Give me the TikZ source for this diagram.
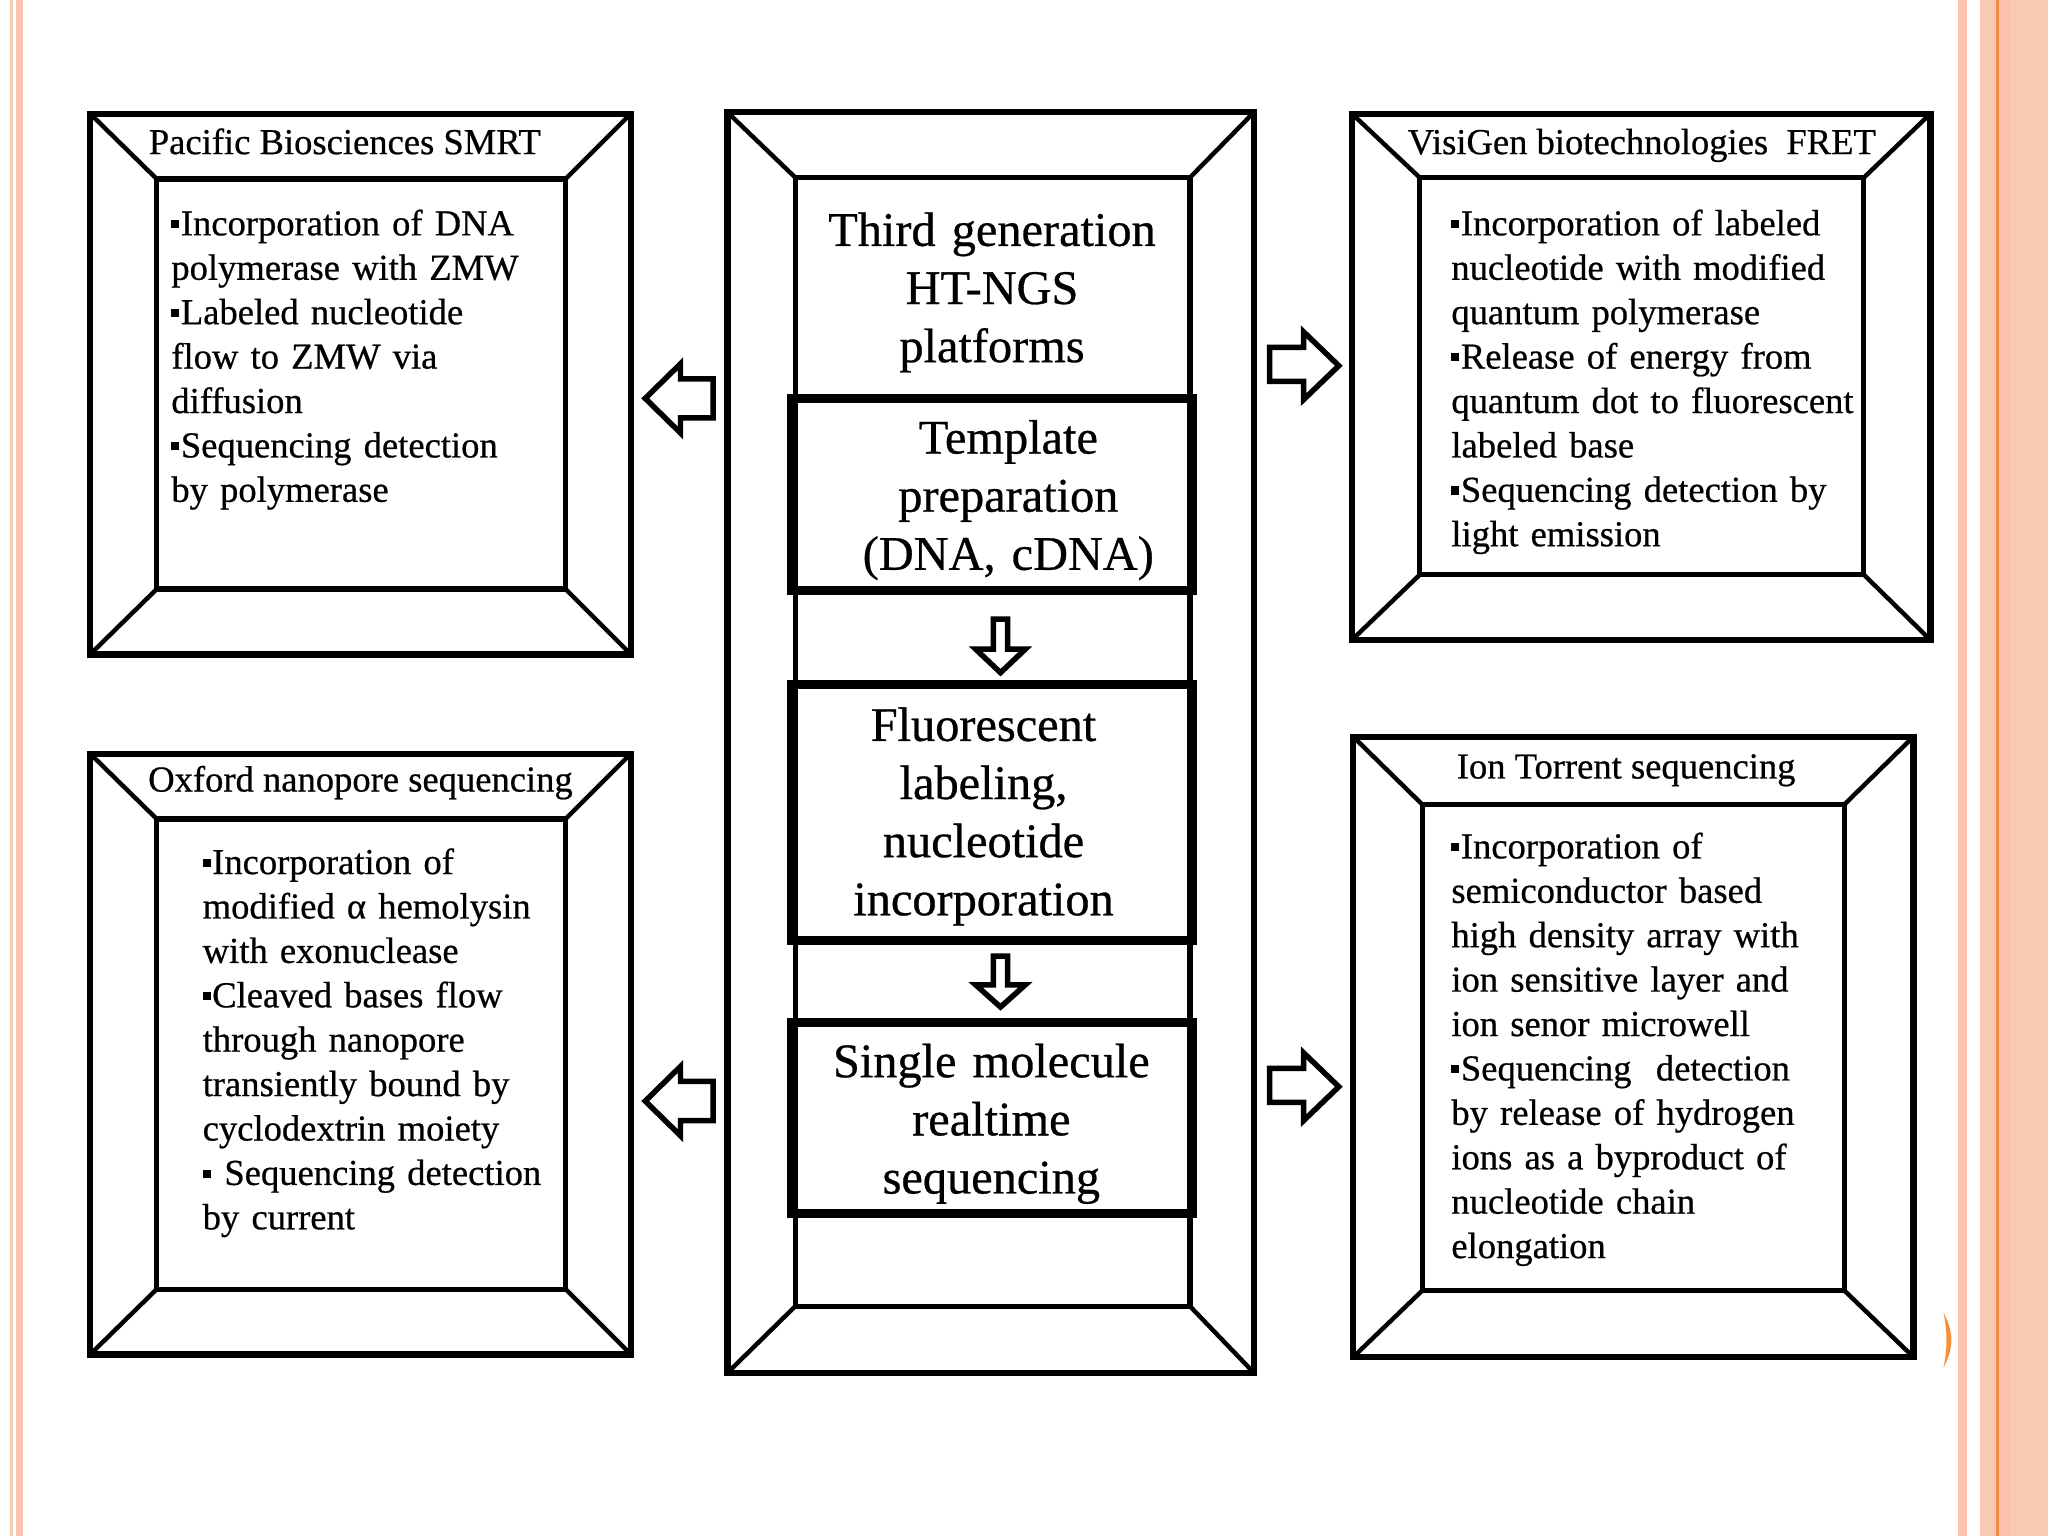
\documentclass[tikz,border=0pt]{standalone}
\usepackage{fontspec}
\setmainfont{Liberation Serif}[FakeBold=0.6]
\usetikzlibrary{fit}
\definecolor{peach}{HTML}{FAC9B4}
\definecolor{peachB}{HTML}{FCC2AE}
\definecolor{tanline}{HTML}{F1CDB8}
\definecolor{orangeL}{HTML}{F08B45}
\definecolor{orangeM}{HTML}{F5913E}
\newcommand{\sqb}{\raisebox{0.2em}{\rule{0.22em}{0.22em}}\hspace{0.04em}}
\newcommand{\bevelbox}[9]{%
  \node[outerframe, fit={(#2,#3) (#4,#5)}] (#1o) {};
  \node[innerframe, fit={(#6,#7) (#8,#9)}] (#1i) {};
  \draw[diag] (#1o.north west) -- (#1i.north west);
  \draw[diag] (#1o.north east) -- (#1i.north east);
  \draw[diag] (#1o.south west) -- (#1i.south west);
  \draw[diag] (#1o.south east) -- (#1i.south east);
}
\begin{document}
\begin{tikzpicture}[x=1pt,y=-1pt,
  outerframe/.style={draw, line width=4.8pt, inner sep=0pt, outer sep=0pt},
  innerframe/.style={draw, line width=4pt, inner sep=0pt, outer sep=0pt},
  diag/.style={line width=3.4pt},
  stepbox/.style={draw, line width=7pt, inner sep=0pt, outer sep=0pt},
  blockarrow/.style={draw, fill=white, line width=4.2pt, line join=miter},
  downarrow/.style={draw, fill=white, line width=4.2pt, line join=miter},
  bodytext/.style={font=\fontsize{28}{34}\selectfont, align=left, text width=340pt, inner sep=0pt, anchor=north west},
  titletext/.style={font=\fontsize{28}{34}\selectfont, inner sep=0pt, anchor=base},
  centertext/.style={font=\fontsize{37}{44.5}\selectfont, align=center, text width=320pt, inner sep=0pt, anchor=north},
]
\useasboundingbox (0,0) rectangle (1568,1176);
\fill[white] (0,0) rectangle (1568,1176);
% slide border stripes
\fill[tanline] (7.7,0) rectangle (10,1176);
\fill[peachB] (12.3,0) rectangle (17.6,1176);
\fill[peachB] (1499,0) rectangle (1506,1176);
\fill[peach] (1516,0) rectangle (1568,1176);
\fill[peachB] (1530,0) rectangle (1539,1176);
\fill[orangeL] (1528,0) rectangle (1530.2,1176);
\fill[orangeM] (1488,1005) .. controls (1496,1020) and (1496,1032) .. (1488,1047) .. controls (1491,1032) and (1491,1020) .. (1488,1005) -- cycle;

% bevelled frames
\bevelbox{pb}{69}{87}{483}{501}{120}{137}{433}{451}
\bevelbox{vg}{1035}{87}{1478}{490}{1087}{136}{1427}{440}
\bevelbox{ox}{69}{577}{483}{1037}{120}{627}{433}{987}
\bevelbox{it}{1036}{564}{1465}{1039}{1089}{616}{1412}{988}
\bevelbox{ct}{557}{86}{960}{1051}{609}{136}{911}{1000}

% central step boxes
\node[stepbox, fit={(606,305) (913,452)}] (tp) {};
\node[stepbox, fit={(606,524) (913,720)}] (fl) {};
\node[stepbox, fit={(606,783) (913,929)}] (sm) {};

% titles
\node[titletext] (pbt) at (264,118) {Pacific Biosciences SMRT};
\node[titletext] (vgt) at (1257,118) {VisiGen biotechnologies\ \ FRET};
\node[titletext] (oxt) at (276,606) {Oxford nanopore sequencing};
\node[titletext] (itt) at (1245,596) {Ion Torrent sequencing};

% body texts
\node[bodytext] (pbb) at (131,156.2) {\strut\sqb Incorporation of DNA\\
 polymerase with ZMW\\
 \sqb Labeled nucleotide\\
 flow to ZMW via\\
 diffusion\\
 \sqb Sequencing detection\\
 by polymerase};
\node[bodytext] (vgb) at (1111,156.2) {\strut\sqb Incorporation of labeled\\
 nucleotide with modified\\
 quantum polymerase\\
 \sqb Release of energy from\\
 quantum dot to fluorescent\\
 labeled base\\
 \sqb Sequencing detection by\\
 light emission};
\node[bodytext] (oxb) at (155,645.2) {\strut\sqb Incorporation of\\
 modified α hemolysin\\
 with exonuclease\\
 \sqb Cleaved bases flow\\
 through nanopore\\
 transiently bound by\\
 cyclodextrin moiety\\
 \sqb\ Sequencing detection\\
 by current};
\node[bodytext] (itb) at (1111,633.2) {\strut\sqb Incorporation of\\
 semiconductor based\\
 high density array with\\
 ion sensitive layer and\\
 ion senor microwell\\
 \sqb Sequencing\ \ detection\\
 by release of hydrogen\\
 ions as a byproduct of\\
 nucleotide chain\\
 elongation};

% central texts
\node[centertext] (c1) at (759.5,156.9) {\strut Third generation\\HT-NGS\\platforms};
\node[centertext] (c2) at (772,315.9) {\strut Template\\preparation\\(DNA, cDNA)};
\node[centertext] (c3) at (753,535.9) {\strut Fluorescent\\labeling,\\nucleotide\\incorporation};
\node[centertext] (c4) at (759,793.4) {\strut Single molecule\\realtime\\sequencing};

% block arrows
\draw[blockarrow] (494,305) -- (521,278.5) -- (521,290) -- (546,290) -- (546,320) -- (521,320) -- (521,331.5) -- cycle;
\draw[blockarrow] (494,843) -- (521,816.5) -- (521,828) -- (546,828) -- (546,858) -- (521,858) -- (521,869.5) -- cycle;
\draw[blockarrow] (1025,280) -- (998,254) -- (998,266) -- (972,266) -- (972,292) -- (998,292) -- (998,306) -- cycle;
\draw[blockarrow] (1025,832) -- (998,806) -- (998,818) -- (972,818) -- (972,844) -- (998,844) -- (998,858) -- cycle;
\draw[downarrow] (766,515) -- (747,497) -- (760.5,497) -- (760.5,474) -- (771.5,474) -- (771.5,497) -- (785,497) -- cycle;
\draw[downarrow] (766,771) -- (747,754) -- (760.5,754) -- (760.5,732) -- (771.5,732) -- (771.5,754) -- (785,754) -- cycle;
\end{tikzpicture}
\end{document}
